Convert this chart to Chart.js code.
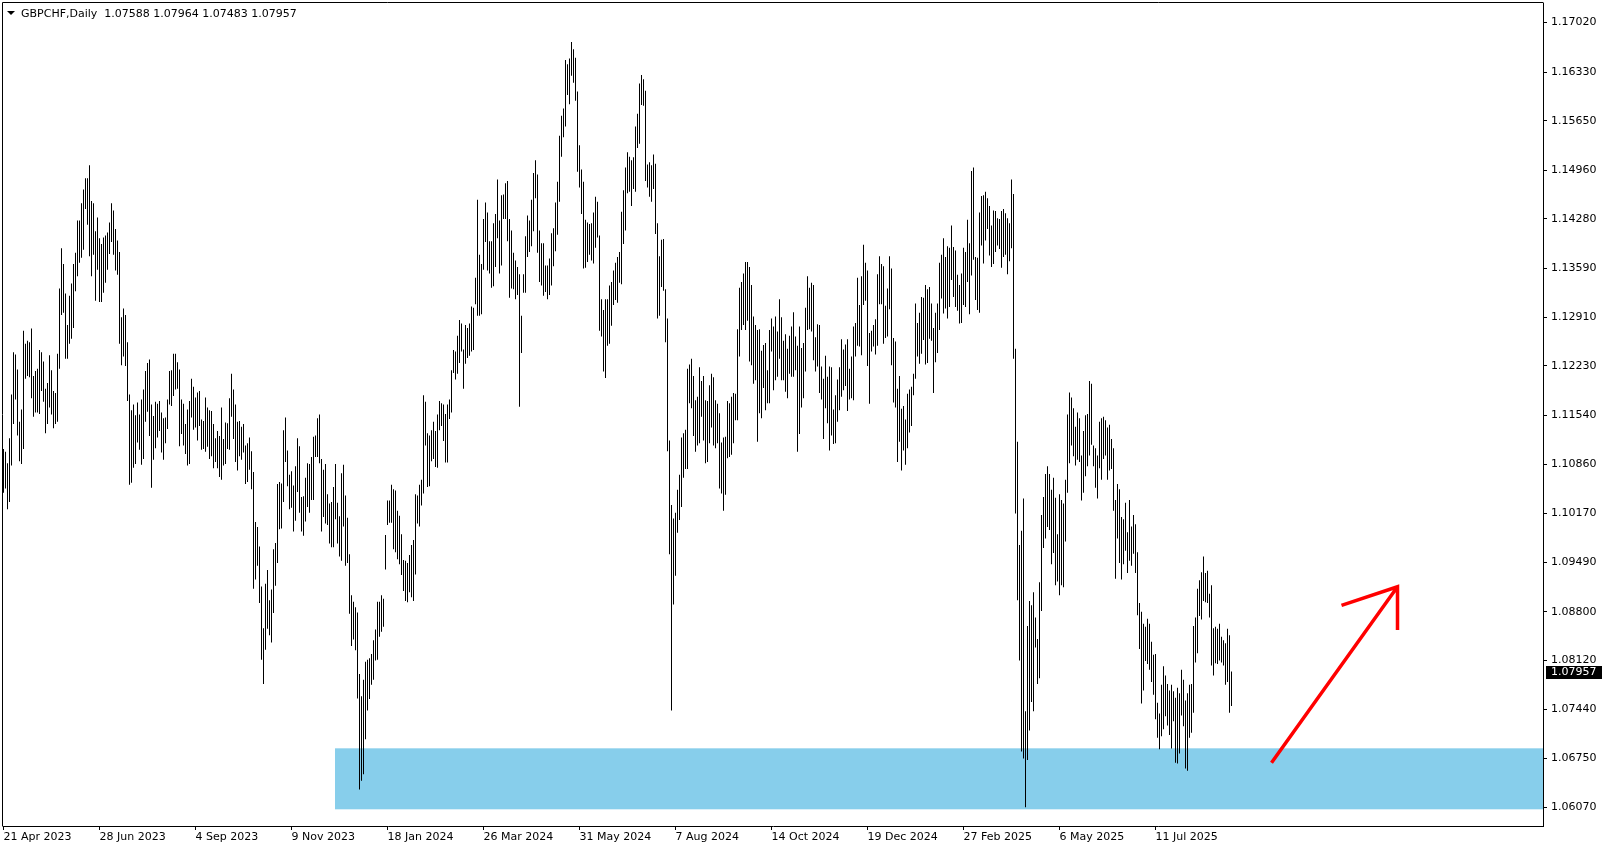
<!DOCTYPE html>
<html>
<head>
<meta charset="utf-8">
<script src="https://cdn.jsdelivr.net/npm/chart.js@4.4.1/dist/chart.umd.min.js"></script>
<style>
  html, body { margin: 0; padding: 0; background: #fff; }
  canvas { display: block; }
</style>
</head>
<body>
<canvas id="chart" width="1608" height="850"></canvas>
<script>
// GBPCHF daily bars (bar 0 = 21 Apr 2023)
var highs = [
  1.1107,1.1103,1.1087,1.1122,1.1183,1.1242,1.1239,1.1218,1.1145,1.1162,
  1.1272,1.1254,1.1258,1.1256,1.1275,1.1209,1.1216,1.1219,1.1245,1.1242,
  1.1229,1.1191,1.1199,1.1238,1.1217,1.1188,1.1185,1.1240,1.1331,1.1387,
  1.1365,1.1324,1.1280,1.1321,1.1338,1.1365,1.1381,1.1426,1.1426,1.1450,
  1.1469,1.1485,1.1485,1.1503,1.1453,1.1450,1.1411,1.1430,1.1401,1.1393,
  1.1402,1.1405,1.1409,1.1423,1.1450,1.1440,1.1414,1.1398,1.1382,1.1291,
  1.1303,1.1294,1.1256,1.1183,1.1161,1.1169,1.1154,1.1172,1.1155,1.1176,
  1.1190,1.1216,1.1227,1.1232,1.1169,1.1153,1.1173,1.1170,1.1174,1.1158,
  1.1150,1.1151,1.1176,1.1216,1.1217,1.1240,1.1240,1.1228,1.1218,1.1176,
  1.1170,1.1142,1.1162,1.1174,1.1205,1.1194,1.1179,1.1186,1.1188,1.1148,
  1.1146,1.1179,1.1165,1.1161,1.1160,1.1142,1.1122,1.1132,1.1125,1.1165,
  1.1121,1.1144,1.1143,1.1178,1.1212,1.1190,1.1169,1.1145,1.1146,1.1138,
  1.1142,1.1112,1.1115,1.1123,1.1104,1.1075,1.1005,1.0998,1.0971,1.0915,
  1.0857,1.0919,1.0938,1.0896,1.0911,1.0967,1.0976,1.1058,1.1061,1.1059,
  1.1133,1.1151,1.1105,1.1071,1.1076,1.1056,1.1083,1.1122,1.1111,1.1040,
  1.1041,1.1067,1.1087,1.1086,1.1096,1.1124,1.1126,1.1150,1.1155,1.1093,
  1.1078,1.1086,1.1044,1.1031,1.1033,1.1054,1.1086,1.1032,1.1013,1.1073,
  1.1085,1.1042,1.1011,1.0960,1.0903,1.0894,1.0886,1.0879,1.0793,1.0762,
  1.0785,1.0810,1.0813,1.0815,1.0821,1.0840,1.0855,1.0894,1.0894,1.0903,
  1.0898,1.0987,1.1035,1.1035,1.1057,1.1051,1.1049,1.1021,1.1014,1.0988,
  1.0952,1.0951,1.0948,1.0959,1.0973,1.0980,1.1044,1.1042,1.1057,1.1064,
  1.1182,1.1173,1.1129,1.1126,1.1133,1.1145,1.1132,1.1155,1.1174,1.1171,
  1.1169,1.1156,1.1169,1.1176,1.1217,1.1245,1.1243,1.1265,1.1287,1.1282,
  1.1246,1.1280,1.1276,1.1282,1.1306,1.1304,1.1346,1.1455,1.1378,1.1365,
  1.1428,1.1451,1.1437,1.1397,1.1397,1.1422,1.1435,1.1483,1.1426,1.1461,
  1.1462,1.1478,1.1481,1.1428,1.1412,1.1381,1.1370,1.1361,1.1351,1.1293,
  1.1351,1.1404,1.1433,1.1426,1.1455,1.1492,1.1510,1.1490,1.1412,1.1394,
  1.1394,1.1363,1.1363,1.1373,1.1408,1.1415,1.1451,1.1480,1.1544,1.1572,
  1.1582,1.1650,1.1644,1.1652,1.1675,1.1665,1.1653,1.1606,1.1531,1.1497,
  1.1480,1.1427,1.1423,1.1421,1.1422,1.1437,1.1459,1.1452,1.1405,1.1316,
  1.1301,1.1316,1.1316,1.1335,1.1340,1.1356,1.1367,1.1375,1.1382,1.1438,
  1.1468,1.1500,1.1521,1.1515,1.1510,1.1514,1.1557,1.1575,1.1617,1.1629,
  1.1623,1.1607,1.1504,1.1507,1.1503,1.1518,1.1505,1.1422,1.1376,1.1399,
  1.1400,1.1330,1.1289,1.1119,1.1029,1.1010,1.1018,1.1050,1.1071,1.1123,
  1.1129,1.1134,1.1219,1.1225,1.1233,1.1209,1.1175,1.1180,1.1221,1.1202,
  1.1209,1.1175,1.1174,1.1196,1.1212,1.1207,1.1175,1.1170,1.1157,1.1116,
  1.1123,1.1124,1.1174,1.1171,1.1180,1.1185,1.1184,1.1274,1.1332,1.1340,
  1.1352,1.1368,1.1368,1.1361,1.1336,1.1292,1.1280,1.1273,1.1274,1.1244,
  1.1252,1.1255,1.1217,1.1273,1.1289,1.1278,1.1292,1.1271,1.1316,1.1291,
  1.1258,1.1267,1.1247,1.1265,1.1278,1.1298,1.1264,1.1251,1.1278,1.1248,
  1.1255,1.1304,1.1348,1.1332,1.1339,1.1336,1.1263,1.1281,1.1280,1.1222,
  1.1205,1.1237,1.1208,1.1222,1.1221,1.1162,1.1182,1.1204,1.1221,1.1260,
  1.1246,1.1253,1.1260,1.1219,1.1236,1.1278,1.1283,1.1346,1.1308,1.1348,
  1.1392,1.1367,1.1356,1.1269,1.1272,1.1280,1.1288,1.1351,1.1376,1.1365,
  1.1362,1.1307,1.1331,1.1376,1.1359,1.1262,1.1257,1.1191,1.1209,1.1163,
  1.1167,1.1148,1.1184,1.1190,1.1194,1.1212,1.1310,1.1283,1.1297,1.1319,
  1.1318,1.1336,1.1330,1.1333,1.1310,1.1276,1.1297,1.1310,1.1367,1.1378,
  1.1401,1.1375,1.1390,1.1388,1.1419,1.1389,1.1384,1.1350,1.1336,1.1352,
  1.1388,1.1382,1.1427,1.1394,1.1495,1.1500,1.1375,1.1374,1.1437,1.1460,
  1.1461,1.1466,1.1457,1.1446,1.1419,1.1440,1.1439,1.1429,1.1428,1.1439,
  1.1442,1.1436,1.1429,1.1422,1.1483,1.1463,1.1247,1.1117,1.0973,1.0993,
  1.1038,1.0741,1.0860,1.0895,1.0889,1.0907,1.0872,1.0842,1.0921,1.1015,
  1.1040,1.1072,1.1083,1.1072,1.1050,1.1067,1.1039,1.0988,1.1044,1.1036,
  1.1031,1.1064,1.1155,1.1186,1.1179,1.1164,1.1138,1.1158,1.1150,1.1098,
  1.1132,1.1154,1.1156,1.1202,1.1198,1.1112,1.1108,1.1098,1.1145,1.1150,
  1.1152,1.1147,1.1137,1.1141,1.1121,1.1108,1.1036,1.1058,1.1051,1.1012,
  1.1009,1.1032,1.0991,1.1036,1.0999,1.1015,1.1002,1.0963,1.0892,1.0880,
  1.0863,1.0859,1.0870,1.0863,1.0838,1.0820,1.0821,1.0753,1.0738,1.0778,
  1.0804,1.0791,1.0779,1.0770,1.0778,1.0769,1.0760,1.0774,1.0766,1.0799,
  1.0785,1.0756,1.0766,1.0778,1.0779,1.0860,1.0872,1.0912,1.0924,1.0935,
  1.0957,1.0934,1.0937,1.0905,1.0917,1.0857,1.0859,1.0856,1.0863,1.0845,
  1.0840,1.0836,1.0856,1.0847,1.07964
];
var lows = [
  1.1046,1.1052,1.1023,1.1033,1.1084,1.1142,1.1176,1.1126,1.1090,1.1086,
  1.1107,1.1205,1.1209,1.1207,1.1178,1.1152,1.1158,1.1158,1.1156,1.1188,
  1.1173,1.1129,1.1142,1.1165,1.1155,1.1136,1.1142,1.1145,1.1219,1.1294,
  1.1297,1.1233,1.1233,1.1254,1.1261,1.1276,1.1327,1.1348,1.1367,1.1374,
  1.1385,1.1442,1.1420,1.1376,1.1348,1.1378,1.1314,1.1357,1.1312,1.1312,
  1.1325,1.1339,1.1357,1.1379,1.1396,1.1378,1.1356,1.1350,1.1254,1.1224,
  1.1236,1.1223,1.1174,1.1057,1.1060,1.1081,1.1086,1.1116,1.1106,1.1085,
  1.1093,1.1145,1.1159,1.1125,1.1053,1.1092,1.1108,1.1123,1.1132,1.1102,
  1.1092,1.1115,1.1135,1.1169,1.1167,1.1181,1.1190,1.1191,1.1111,1.1128,
  1.1112,1.1100,1.1084,1.1086,1.1151,1.1134,1.1137,1.1119,1.1139,1.1106,
  1.1107,1.1103,1.1110,1.1093,1.1097,1.1080,1.1089,1.1080,1.1068,1.1064,
  1.1084,1.1086,1.1107,1.1106,1.1152,1.1121,1.1089,1.1077,1.1097,1.1092,
  1.1102,1.1058,1.1061,1.1078,1.1051,1.0912,1.0925,1.0944,1.0892,1.0813,
  1.0779,1.0827,1.0856,1.0847,1.0837,1.0878,1.0916,1.0948,1.0995,1.0996,
  1.1033,1.1089,1.1055,1.1023,1.1025,1.0992,1.1007,1.1047,1.1018,1.0992,
  1.0986,1.1006,1.1026,1.1018,1.1036,1.1036,1.1096,1.1096,1.1087,1.0992,
  1.1012,1.1003,1.1001,1.0975,1.0970,1.0970,1.1009,1.0975,1.0957,1.0951,
  1.0999,1.0944,1.0948,1.0877,1.0832,1.0841,1.0826,1.0759,1.0632,1.0644,
  1.0653,1.0702,1.0742,1.0758,1.0778,1.0785,1.0812,1.0813,1.0845,1.0852,
  1.0859,1.0939,1.1001,1.1004,1.1004,1.0967,1.0963,1.0953,1.0946,1.0931,
  1.0909,1.0895,1.0893,1.0907,1.0900,1.0895,1.0932,1.1003,1.0999,1.1028,
  1.1045,1.1112,1.1054,1.1055,1.1090,1.1093,1.1082,1.1081,1.1133,1.1139,
  1.1118,1.1088,1.1088,1.1149,1.1158,1.1213,1.1204,1.1212,1.1227,1.1243,
  1.1191,1.1226,1.1234,1.1237,1.1243,1.1245,1.1309,1.1293,1.1293,1.1295,
  1.1357,1.1396,1.1356,1.1352,1.1332,1.1334,1.1361,1.1401,1.1352,1.1363,
  1.1428,1.1428,1.1397,1.1318,1.1331,1.1330,1.1316,1.1322,1.1166,1.1241,
  1.1325,1.1325,1.1375,1.1382,1.1390,1.1411,1.1457,1.1381,1.1340,1.1335,
  1.1321,1.1326,1.1316,1.1322,1.1335,1.1362,1.1383,1.1406,1.1452,1.1515,
  1.1542,1.1557,1.1601,1.1588,1.1628,1.1618,1.1593,1.1494,1.1472,1.1435,
  1.1359,1.1360,1.1368,1.1378,1.1370,1.1366,1.1388,1.1402,1.1272,1.1264,
  1.1215,1.1206,1.1251,1.1254,1.1279,1.1308,1.1315,1.1311,1.1339,1.1337,
  1.1393,1.1412,1.1464,1.1466,1.1446,1.1470,1.1466,1.1527,1.1533,1.1587,
  1.1586,1.1481,1.1472,1.1459,1.1452,1.1470,1.1407,1.1289,1.1293,1.1333,
  1.1328,1.1256,1.1104,1.0960,1.0742,1.0890,1.0930,1.0990,1.1008,1.1026,
  1.1067,1.1079,1.1079,1.1171,1.1164,1.1125,1.1103,1.1112,1.1115,1.1152,
  1.1119,1.1087,1.1089,1.1115,1.1137,1.1112,1.1108,1.1115,1.1052,1.1045,
  1.1021,1.1043,1.1094,1.1096,1.1099,1.1115,1.1147,1.1147,1.1236,1.1273,
  1.1280,1.1273,1.1286,1.1229,1.1224,1.1198,1.1203,1.1117,1.1157,1.1150,
  1.1192,1.1161,1.1171,1.1171,1.1243,1.1189,1.1203,1.1208,1.1233,1.1203,
  1.1203,1.1187,1.1178,1.1212,1.1208,1.1208,1.1217,1.1103,1.1128,1.1165,
  1.1178,1.1215,1.1273,1.1274,1.1271,1.1231,1.1215,1.1222,1.1185,1.1176,
  1.1121,1.1164,1.1143,1.1105,1.1126,1.1114,1.1115,1.1145,1.1161,1.1180,
  1.1189,1.1195,1.1160,1.1176,1.1178,1.1175,1.1236,1.1251,1.1250,1.1238,
  1.1308,1.1314,1.1223,1.1170,1.1243,1.1250,1.1239,1.1251,1.1309,1.1309,
  1.1254,1.1262,1.1264,1.1302,1.1224,1.1172,1.1165,1.1089,1.1117,1.1077,
  1.1105,1.1085,1.1108,1.1130,1.1139,1.1182,1.1205,1.1236,1.1226,1.1240,
  1.1259,1.1225,1.1227,1.1261,1.1258,1.1185,1.1228,1.1241,1.1273,1.1317,
  1.1296,1.1303,1.1289,1.1305,1.1343,1.1319,1.1305,1.1300,1.1282,1.1283,
  1.1308,1.1305,1.1340,1.1295,1.1349,1.1371,1.1315,1.1301,1.1297,1.1391,
  1.1366,1.1398,1.1414,1.1377,1.1361,1.1365,1.1382,1.1391,1.1386,1.1360,
  1.1375,1.1378,1.1351,1.1369,1.1387,1.1233,1.1017,1.0896,1.0812,1.0685,
  1.0675,1.0607,1.0673,1.0714,1.0754,1.0741,1.0830,1.0779,1.0787,1.0881,
  1.0969,1.0982,1.0998,1.0994,1.0946,1.0962,1.0917,1.0922,1.0903,1.0917,
  1.0914,1.0978,1.1046,1.1087,1.1112,1.1097,1.1084,1.1092,1.1089,1.1035,
  1.1046,1.1069,1.1083,1.1098,1.1113,1.1083,1.1053,1.1038,1.1080,1.1064,
  1.1093,1.1098,1.1064,1.1077,1.1079,1.1021,1.0926,1.0982,1.0948,1.0925,
  1.0946,1.0965,1.0934,1.0951,1.0944,1.0961,1.0934,1.0875,1.0828,1.0752,
  1.0770,1.0811,1.0807,1.0799,1.0782,1.0764,1.0730,1.0704,1.0688,1.0706,
  1.0716,1.0734,1.0721,1.0708,1.0689,1.0727,1.0669,1.0668,1.0682,1.0735,
  1.0720,1.0661,1.0658,1.0704,1.0711,1.0739,1.0809,1.0822,1.0874,1.0869,
  1.0895,1.0893,1.0892,1.0872,1.0805,1.0791,1.0808,1.0807,1.0812,1.0809,
  1.0805,1.0778,1.0782,1.0739,1.07483
];

var priceTicks = [1.17020, 1.16330, 1.15650, 1.14960, 1.14280, 1.13590, 1.12910, 1.12230, 1.11540,
                  1.10860, 1.10170, 1.09490, 1.08800, 1.08120, 1.07440, 1.06750, 1.06070];
var dateTickIdx = [0, 48, 96, 144, 192, 240, 288, 336, 384, 432, 480, 528, 576];
var dateLabels = ['21 Apr 2023', '28 Jun 2023', '4 Sep 2023', '9 Nov 2023', '18 Jan 2024', '26 Mar 2024',
                  '31 May 2024', '7 Aug 2024', '14 Oct 2024', '19 Dec 2024', '27 Feb 2025', '6 May 2025', '11 Jul 2025'];

var symbolName = 'GBPCHF,Daily';
var lastOHLC = [1.07588, 1.07964, 1.07483, 1.07957];

// support zone (bar index where it starts, price top / bottom)
var zoneStart = 166;
var zoneTop = 1.06893;
var zoneBottom = 1.06042;

// hand-drawn arrow, in bar index / price
var arrowTail = [634, 1.06692];
var arrowTip = [697, 1.09148];
var arrowWingA = [669, 1.08889];
var arrowWingB = [697, 1.08544];

var yMin = 1.05809, yMax = 1.17294;
var FONT = 'DejaVu Sans';

var bars = highs.map(function (h, i) { return { x: i, y: [lows[i], h] }; });

var decor = {
    id: 'decor',
    beforeDatasetsDraw: function (chart) {
        var ctx = chart.ctx, a = chart.chartArea, xs = chart.scales.x, ys = chart.scales.y;
        var x0 = Math.round(xs.getPixelForValue(zoneStart) - 0.5);
        var y0 = ys.getPixelForValue(zoneTop);
        var y1 = ys.getPixelForValue(zoneBottom);
        ctx.save();
        ctx.fillStyle = '#87CEEB';
        ctx.fillRect(x0, y0, a.right - x0, y1 - y0);
        ctx.restore();
    },
    afterDatasetsDraw: function (chart) {
        var ctx = chart.ctx, xs = chart.scales.x, ys = chart.scales.y;
        function pt(p) { return [xs.getPixelForValue(p[0]), ys.getPixelForValue(p[1])]; }
        var t = pt(arrowTail), h = pt(arrowTip), wa = pt(arrowWingA), wb = pt(arrowWingB);
        ctx.save();
        ctx.strokeStyle = '#ff0000';
        ctx.lineWidth = 3.5;
        ctx.lineJoin = 'miter';
        ctx.beginPath();
        ctx.moveTo(t[0], t[1]);
        ctx.lineTo(h[0], h[1]);
        ctx.moveTo(wa[0], wa[1]);
        ctx.lineTo(h[0], h[1]);
        ctx.lineTo(wb[0], wb[1]);
        ctx.stroke();
        ctx.restore();
    },
    afterDraw: function (chart) {
        var ctx = chart.ctx, a = chart.chartArea, ys = chart.scales.y;
        ctx.save();
        // left and top frame lines
        ctx.strokeStyle = '#000';
        ctx.lineWidth = 1;
        ctx.beginPath();
        ctx.moveTo(a.left - 0.5, a.bottom + 0.5);
        ctx.lineTo(a.left - 0.5, a.top - 0.5);
        ctx.lineTo(a.right + 0.5, a.top - 0.5);
        ctx.stroke();

        // last price box
        var yc = ys.getPixelForValue(lastOHLC[3]);
        ctx.fillStyle = '#000';
        ctx.fillRect(a.right + 3, Math.round(yc - 6.5), 56, 13);
        ctx.fillStyle = '#fff';
        ctx.font = '11px "' + FONT + '"';
        ctx.textBaseline = 'middle';
        ctx.fillText(lastOHLC[3].toFixed(5), a.right + 8, yc + 0.5);

        // title line
        ctx.fillStyle = '#000';
        ctx.beginPath();
        ctx.moveTo(7, 11);
        ctx.lineTo(15, 11);
        ctx.lineTo(11, 15);
        ctx.closePath();
        ctx.fill();
        ctx.textBaseline = 'alphabetic';
        var title = symbolName + '  ' + lastOHLC.map(function (v) { return v.toFixed(5); }).join(' ');
        ctx.fillText(title, 21, 17);
        ctx.restore();
    }
};

var ctx = document.getElementById('chart').getContext('2d');
new Chart(ctx, {
    type: 'bar',
    data: {
        datasets: [{
            data: bars,
            backgroundColor: '#000',
            borderWidth: 0,
            borderSkipped: false,
            barThickness: 1,
            inflateAmount: 0
        }]
    },
    options: {
        responsive: false,
        animation: false,
        devicePixelRatio: 1,
        layout: { padding: { left: 3, top: 3, right: 0, bottom: 0 } },
        plugins: { legend: { display: false }, tooltip: { enabled: false } },
        scales: {
            x: {
                type: 'linear',
                min: -0.25,
                max: 769.75,
                offset: false,
                grid: { offset: false, drawOnChartArea: false, tickLength: 4, color: '#000' },
                border: { display: true, color: '#000' },
                ticks: {
                    autoSkip: false,
                    maxRotation: 0,
                    minRotation: 0,
                    align: 'start',
                    padding: 1,
                    color: '#000',
                    font: { family: FONT, size: 11 },
                    callback: function (v) {
                        var k = dateTickIdx.indexOf(v);
                        return k >= 0 ? dateLabels[k] : '';
                    }
                },
                afterBuildTicks: function (s) {
                    s.ticks = dateTickIdx.map(function (v) { return { value: v }; });
                },
                afterFit: function (s) {
                    s.height = 24;
                    s.paddingLeft = 0;
                    s.paddingRight = 0;
                }
            },
            y: {
                position: 'right',
                min: yMin,
                max: yMax,
                grid: { drawOnChartArea: false, tickLength: 4, color: '#000' },
                border: { display: true, color: '#000' },
                ticks: {
                    autoSkip: false,
                    padding: 4,
                    color: '#000',
                    font: { family: FONT, size: 11 },
                    callback: function (v) { return v.toFixed(5); }
                },
                afterBuildTicks: function (s) {
                    s.ticks = priceTicks.map(function (v) { return { value: v }; });
                },
                afterFit: function (s) {
                    s.width = 65;
                    s.paddingTop = 0;
                    s.paddingBottom = 0;
                }
            }
        }
    },
    plugins: [decor]
});
</script>
</body>
</html>
